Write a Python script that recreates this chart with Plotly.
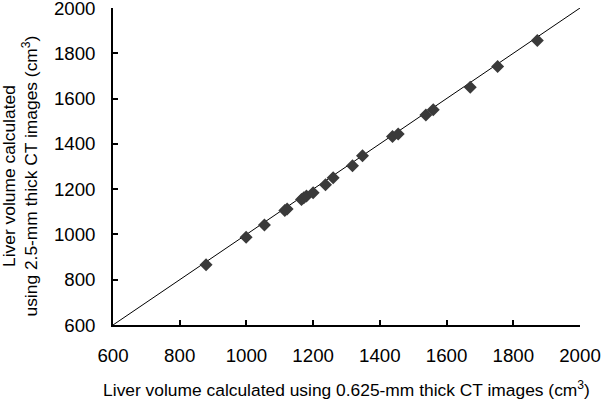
import plotly.graph_objects as go

# liver volume (cm3): 0.625-mm images vs 2.5-mm images
thin_mm = [879, 999, 1054, 1115, 1122, 1165, 1172, 1180, 1200, 1237, 1260,
           1318, 1348, 1438, 1455, 1538, 1560, 1671, 1753, 1872]
thick_mm = [866, 988, 1042, 1106, 1112, 1154, 1162, 1170, 1184, 1219, 1250,
            1303, 1347, 1433, 1444, 1527, 1551, 1650, 1742, 1857]
identity = [600, 2000]
tick_vals = [600, 800, 1000, 1200, 1400, 1600, 1800, 2000]

FONT = "Liberation Sans, Arial"

fig = go.Figure()
fig.add_trace(go.Scatter(x=identity, y=identity, mode="lines",
                         line=dict(color="#000000", width=1), hoverinfo="skip"))
fig.add_trace(go.Scatter(x=thin_mm, y=thick_mm, mode="markers",
                         marker=dict(symbol="diamond", size=10, color="#3a3a3a")))

axis_style = dict(
    range=[600, 2000], tickvals=tick_vals, showgrid=False, zeroline=False,
    showline=True, linecolor="#000000", linewidth=1.5,
    ticks="inside", ticklen=5, tickwidth=1.5, tickcolor="#000000",
    tickfont=dict(family=FONT, size=18.7, color="#000000"),
    automargin=False, ticklabeloverflow="allow",
)

fig.update_xaxes(**axis_style, ticklabelstandoff=13,
                 title=dict(text="Liver volume calculated using 0.625-mm thick CT images (cm<sup>3</sup>)",
                            font=dict(family=FONT, size=17.4, color="#000000"),
                            standoff=19))
fig.update_yaxes(**axis_style, ticklabelstandoff=12)

# y title placed by hand so the two lines sit at the left edge
fig.add_annotation(text="Liver volume calculated<br>using 2.5-mm thick CT images (cm<sup>3</sup>)",
                   xref="paper", yref="paper", x=0, y=0.5, xshift=-93, yshift=-10,
                   xanchor="center", yanchor="middle", textangle=-90, showarrow=False,
                   font=dict(family=FONT, size=17.4, color="#000000"))

fig.update_layout(
    width=601, height=400,
    margin=dict(l=113, r=21, t=8, b=75),
    plot_bgcolor="#ffffff", paper_bgcolor="#ffffff",
    showlegend=False,
)

fig.write_html("out.html", config={"displayModeBar": False},
               post_script="document.body.style.margin='0px';")
